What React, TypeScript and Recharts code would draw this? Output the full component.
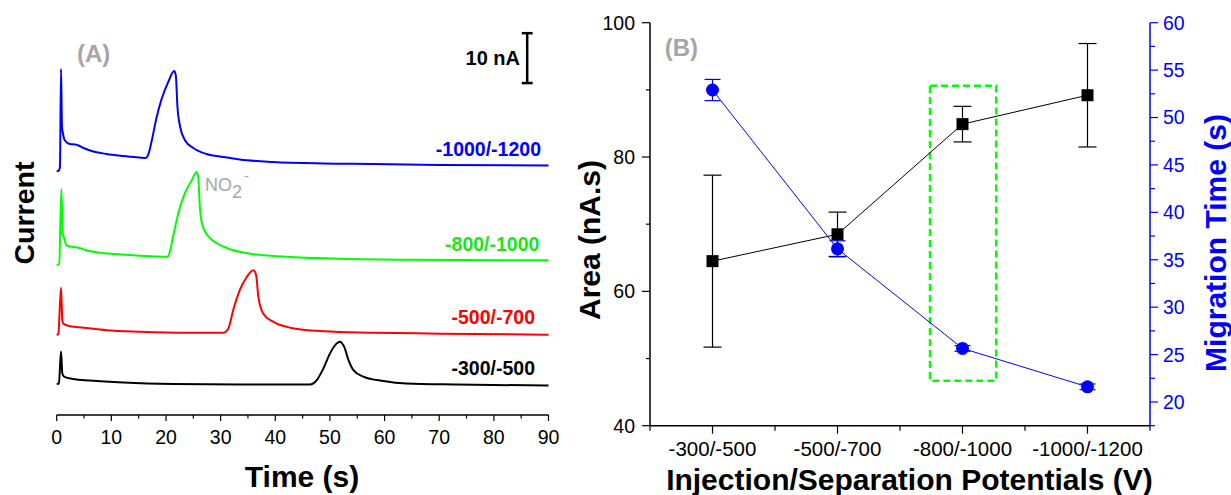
import React from 'react';
import {
  LineChart,
  ComposedChart,
  Line,
  XAxis,
  YAxis,
  ErrorBar,
  ReferenceLine,
  ReferenceArea
} from 'recharts';

const FONT = '"Liberation Sans", Arial, Helvetica, sans-serif';
const BLUE = '#0000ff';
const RED = '#ff0000';
const GREEN = '#00ff00';
const GREEN_TEXT = '#19e619';
const GREY = '#a6a6a6';

// ---- (A) electropherograms: time (s) vs current (nA, traces stacked as drawn)
const blackTime = [0, 0.4, 0.79, 1.03, 1.34, 3.0, 6.1, 12.2, 21.3, 33.5, 46.3, 47.6, 48.8, 50.0, 51.2, 51.8, 52.6, 53.4, 54.3, 56.1, 59.8, 64.0, 73.2, 90];
const blackCurrent = [6.2, 6.3, 12.7, 8.3, 7.7, 7.2, 6.9, 6.5, 6.2, 6.1, 6.1, 7.0, 9.3, 12.3, 14.3, 14.7, 13.7, 11.0, 9.0, 7.7, 6.8, 6.3, 6.1, 5.9];

const redTime = [0, 0.3, 0.79, 1.03, 1.2, 2.4, 4.9, 9.1, 15.2, 24.4, 30.5, 31.4, 32.3, 33.5, 34.8, 36.0, 36.5, 36.9, 37.8, 39.6, 42.7, 48.8, 57.9, 70.1, 90];
const redCurrent = [16.0, 16.3, 25.5, 19.0, 18.3, 17.8, 17.5, 17.0, 16.7, 16.5, 16.5, 17.3, 21.0, 25.0, 27.7, 29.0, 28.0, 23.7, 20.3, 18.7, 17.5, 16.8, 16.5, 16.3, 16.1];

const greenTime = [0, 0.46, 0.85, 1.1, 1.3, 1.8, 2.75, 4.05, 5.4, 8.0, 12.6, 17.1, 20.3, 20.7, 21.4, 22.4, 23.4, 24.7, 25.6, 25.9, 26.2, 26.6, 27.6, 28.9, 31.5, 35.5, 42.0, 51.8, 64.9, 90];
const greenCurrent = [30.0, 30.3, 45.3, 36.3, 35.7, 34.0, 33.7, 33.5, 33.0, 32.5, 32.1, 31.8, 31.7, 32.7, 36.3, 41.0, 44.3, 47.0, 48.7, 47.7, 41.7, 38.3, 36.0, 34.7, 33.3, 32.3, 31.7, 31.3, 31.1, 31.0];

const blueTime = [0, 0.3, 0.6, 0.79, 0.97, 1.1, 1.5, 2.4, 3.4, 4.0, 4.9, 6.7, 9.1, 12.2, 15.2, 16.3, 16.8, 17.4, 18.3, 19.2, 20.4, 21.5, 21.8, 22.1, 22.6, 23.5, 25.0, 27.4, 30.5, 33.5, 39.6, 48.8, 57.9, 70.1, 90];
const blueCurrent = [48.9, 48.9, 49.7, 69.3, 57.7, 56.7, 55.0, 54.3, 54.2, 54.0, 53.5, 52.8, 52.3, 51.9, 51.6, 51.5, 52.3, 55.0, 59.7, 63.3, 66.7, 68.9, 68.0, 61.7, 57.7, 55.0, 53.5, 52.3, 51.7, 51.2, 50.7, 50.4, 50.3, 50.1, 50.0];

const timeTicks = [0, 5, 10, 15, 20, 25, 30, 35, 40, 45, 50, 55, 60, 65, 70, 75, 80, 85, 90];
const currentDomain = [0, 79];

// 10 nA scale bar
const scaleBarTime = 86.1;
const scaleBarLow = 66.5;
const scaleBarSize = 10;

// ---- (B) area and migration time vs potentials
const potentials = ['-300/-500', '-500/-700', '-800/-1000', '-1000/-1200'];
const areaMean = [64.5, 68.5, 84.9, 89.2];
const areaSd = [12.8, 3.3, 2.65, 7.7];
const migTime = [52.9, 36.15, 25.65, 21.6];
const migSd = [1.12, 0.85, 0.3, 0.3];

const potentialTicks = [0.5, 1, 1.5, 2, 2.5, 3, 3.5, 4, 4.5];
const areaTicks = [40, 50, 60, 70, 80, 90, 100];
const migTicks = [17.5, 20, 22.5, 25, 27.5, 30, 32.5, 35, 37.5, 40, 42.5, 45, 47.5, 50, 52.5, 55, 57.5, 60];

// highlighted condition (-800/-1000)
const boxX = [2.74, 3.27];
const boxArea = [46.7, 90.6];

const toSeries = (t: number[], cur: number[]) => t.map((v, k) => ({ t: v, i: cur[k] }));

const traces = [
  { key: 'p300', color: '#000000', data: toSeries(blackTime, blackCurrent) },
  { key: 'p500', color: RED, data: toSeries(redTime, redCurrent) },
  { key: 'p800', color: GREEN, data: toSeries(greenTime, greenCurrent) },
  { key: 'p1000', color: BLUE, data: toSeries(blueTime, blueCurrent) },
];

const pointsB = potentials.map((name, k) => ({
  x: k + 1,
  name,
  area: areaMean[k],
  areaErr: areaSd[k],
  mig: migTime[k],
  migErr: migSd[k],
}));

function TimeTick(props: any) {
  const { x, y, payload } = props;
  const base = y - 15;
  const major = payload.value % 10 === 0;
  return (
    <g>
      <line x1={x} x2={x} y1={base} y2={base + (major ? 6 : 3.5)} stroke="#000" strokeWidth={1.2} />
      {major && (
        <text x={x} y={y} dy="0.71em" textAnchor="middle" fontSize={19.5} fontFamily={FONT} fill="#000">
          {payload.value}
        </text>
      )}
    </g>
  );
}

function PotTick(props: any) {
  const { x, y, payload } = props;
  const base = y - 16;
  const v = payload.value;
  const label = Number.isInteger(v) ? potentials[v - 1] : null;
  return (
    <g>
      <line x1={x} x2={x} y1={base} y2={base + (label ? 8 : 5)} stroke="#000" strokeWidth={1.2} />
      {label && (
        <text x={x} y={y} dy="0.71em" textAnchor="middle" fontSize={20.5} fontFamily={FONT} fill="#000">
          {label}
        </text>
      )}
    </g>
  );
}

function AreaTick(props: any) {
  const { x, y, payload } = props;
  const axisX = x + 15;
  const major = payload.value % 20 === 0;
  return (
    <g>
      <line x1={axisX} x2={axisX - (major ? 8 : 4)} y1={y} y2={y} stroke="#000" strokeWidth={1.2} />
      {major && (
        <text x={x} y={y} dy="0.355em" textAnchor="end" fontSize={19.5} fontFamily={FONT} fill="#000">
          {payload.value}
        </text>
      )}
    </g>
  );
}

function MigTick(props: any) {
  const { x, y, payload } = props;
  const axisX = x - 13;
  const major = payload.value % 5 === 0;
  return (
    <g>
      <line x1={axisX} x2={axisX + (major ? 8 : 5)} y1={y} y2={y} stroke={BLUE} strokeWidth={1.2} />
      {major && (
        <text x={x} y={y} dy="0.355em" textAnchor="start" fontSize={19.5} fontFamily={FONT} fill={BLUE}>
          {payload.value}
        </text>
      )}
    </g>
  );
}

type NoteProps = {
  x: number;
  y: number;
  anchor?: 'start' | 'middle' | 'end';
  rotate?: boolean;
  style?: React.CSSProperties;
  children: React.ReactNode;
};

function Note({ x, y, anchor = 'start', rotate, style, children }: NoteProps) {
  const tx = anchor === 'start' ? '0' : anchor === 'middle' ? '-50%' : '-100%';
  return (
    <div
      style={{
        position: 'absolute',
        left: x,
        top: y,
        transform: rotate ? 'translate(-50%,-50%) rotate(-90deg)' : `translate(${tx},-50%)`,
        lineHeight: 1,
        whiteSpace: 'nowrap',
        fontFamily: FONT,
        ...style,
      }}
    >
      {children}
    </div>
  );
}

const frameLine = { stroke: '#000', strokeWidth: 1.5 };

const PanelA = () => (
  <LineChart width={560} height={495} margin={{ top: 20.7, right: 11.5, bottom: 35, left: 56.7 }}>
    <XAxis
      type="number"
      dataKey="t"
      domain={[0, 90]}
      ticks={timeTicks}
      interval={0}
      height={45}
      tickSize={6}
      tickMargin={9}
      tickLine={false}
      tick={(p: any) => <TimeTick {...p} />}
      axisLine={frameLine}
    />
    <XAxis xAxisId="top" orientation="top" type="number" domain={[0, 90]} height={0} tick={false} tickLine={false} axisLine={frameLine} />
    <YAxis type="number" domain={currentDomain} width={0} tick={false} tickLine={false} axisLine={frameLine} />
    <YAxis yAxisId="r" orientation="right" type="number" domain={currentDomain} width={0} tick={false} tickLine={false} axisLine={frameLine} />
    {traces.map(tr => (
      <Line
        key={tr.key}
        data={tr.data}
        dataKey="i"
        type="monotone"
        stroke={tr.color}
        strokeWidth={2}
        dot={false}
        activeDot={false}
        isAnimationActive={false}
      />
    ))}
    <ReferenceLine
      segment={[{ x: scaleBarTime, y: scaleBarLow }, { x: scaleBarTime, y: scaleBarLow + scaleBarSize }]}
      stroke="#000"
      strokeWidth={2.5}
    />
    <ReferenceLine
      segment={[{ x: scaleBarTime - 1, y: scaleBarLow }, { x: scaleBarTime + 1, y: scaleBarLow }]}
      stroke="#000"
      strokeWidth={2.5}
    />
    <ReferenceLine
      segment={[{ x: scaleBarTime - 1, y: scaleBarLow + scaleBarSize }, { x: scaleBarTime + 1, y: scaleBarLow + scaleBarSize }]}
      stroke="#000"
      strokeWidth={2.5}
    />
  </LineChart>
);

const SquareDot = (p: any) => (
  <rect key={`sq-${p.index}`} x={p.cx - 6} y={p.cy - 6} width={12} height={12} fill="#000" />
);

const CircleDot = (p: any) => (
  <circle key={`ci-${p.index}`} cx={p.cx} cy={p.cy} r={6.5} fill={BLUE} />
);

const PanelB = () => (
  <ComposedChart width={671} height={495} data={pointsB} margin={{ top: 22.7, right: 21, bottom: 24.3, left: 30 }}>
    <XAxis
      type="number"
      dataKey="x"
      domain={[0.5, 4.5]}
      ticks={potentialTicks}
      interval={0}
      height={45}
      tickSize={7}
      tickMargin={9}
      tickLine={false}
      tick={(p: any) => <PotTick {...p} />}
      axisLine={frameLine}
    />
    <XAxis xAxisId="top" orientation="top" type="number" domain={[0.5, 4.5]} height={0} tick={false} tickLine={false} axisLine={{ stroke: BLUE, strokeWidth: 1.5 }} />
    <YAxis
      yAxisId="left"
      type="number"
      domain={[40, 100]}
      ticks={areaTicks}
      interval={0}
      width={60}
      tickSize={8}
      tickMargin={7}
      tickLine={false}
      tick={(p: any) => <AreaTick {...p} />}
      axisLine={frameLine}
    />
    <YAxis
      yAxisId="right"
      orientation="right"
      type="number"
      domain={[17.5, 60]}
      ticks={migTicks}
      interval={0}
      width={60}
      tickSize={8}
      tickMargin={5}
      tickLine={false}
      tick={(p: any) => <MigTick {...p} />}
      axisLine={{ stroke: BLUE, strokeWidth: 1.5 }}
    />
    <ReferenceArea
      yAxisId="left"
      x1={boxX[0]}
      x2={boxX[1]}
      y1={boxArea[0]}
      y2={boxArea[1]}
      fill="none"
      fillOpacity={0}
      stroke={GREEN}
      strokeWidth={2.5}
      strokeDasharray="7 4"
    />
    <Line
      yAxisId="left"
      dataKey="area"
      type="linear"
      stroke="#000"
      strokeWidth={1}
      dot={SquareDot}
      activeDot={false}
      isAnimationActive={false}
    >
      <ErrorBar dataKey="areaErr" width={9} stroke="#000" strokeWidth={1.2} direction="y" />
    </Line>
    <Line
      yAxisId="right"
      dataKey="mig"
      type="linear"
      stroke={BLUE}
      strokeWidth={1}
      dot={CircleDot}
      activeDot={false}
      isAnimationActive={false}
    >
      <ErrorBar dataKey="migErr" width={8} stroke={BLUE} strokeWidth={1.2} direction="y" />
    </Line>
  </ComposedChart>
);

export default function App() {
  const bold = { fontWeight: 700 };
  return (
    <div style={{ position: 'absolute', left: 0, top: 0, width: 1231, height: 495, background: '#fff', overflow: 'hidden' }}>
      <div style={{ position: 'absolute', left: 0, top: 0 }}>
        <PanelA />
      </div>
      <div style={{ position: 'absolute', left: 560, top: 0 }}>
        <PanelB />
      </div>

      {/* panel A annotations */}
      <Note x={93.7} y={54} anchor="middle" style={{ ...bold, fontSize: 24, color: GREY }}>(A)</Note>
      <Note x={520} y={57.5} anchor="end" style={{ ...bold, fontSize: 20, color: '#000' }}>10 nA</Note>
      <Note x={541} y={149.7} anchor="end" style={{ ...bold, fontSize: 19.5, color: BLUE }}>-1000/-1200</Note>
      <Note x={539.4} y={245} anchor="end" style={{ ...bold, fontSize: 19.5, color: GREEN_TEXT }}>-800/-1000</Note>
      <Note x={535} y={318} anchor="end" style={{ ...bold, fontSize: 19.5, color: RED }}>-500/-700</Note>
      <Note x={535} y={368.8} anchor="end" style={{ ...bold, fontSize: 19.5, color: '#000' }}>-300/-500</Note>
      <Note x={205} y={185} style={{ fontSize: 18, color: GREY }}>
        NO<span style={{ position: 'relative', top: 7 }}>2</span>
        <span style={{ position: 'relative', top: -10, marginLeft: 2, fontSize: 15 }}>-</span>
      </Note>
      <Note x={302} y={477} anchor="middle" style={{ ...bold, fontSize: 30, color: '#000' }}>Time (s)</Note>
      <Note x={24} y={213} rotate style={{ ...bold, fontSize: 28.5, color: '#000' }}>Current</Note>

      {/* panel B annotations */}
      <Note x={681.3} y={48} anchor="middle" style={{ ...bold, fontSize: 24, color: GREY }}>(B)</Note>
      <Note x={909.5} y={480} anchor="middle" style={{ ...bold, fontSize: 30, color: '#000' }}>
        Injection/Separation Potentials (V)
      </Note>
      <Note x={590} y={240} rotate style={{ ...bold, fontSize: 30, color: '#000' }}>Area (nA.s)</Note>
      <Note x={1216} y={243} rotate style={{ ...bold, fontSize: 30, color: BLUE }}>Migration Time (s)</Note>
    </div>
  );
}
